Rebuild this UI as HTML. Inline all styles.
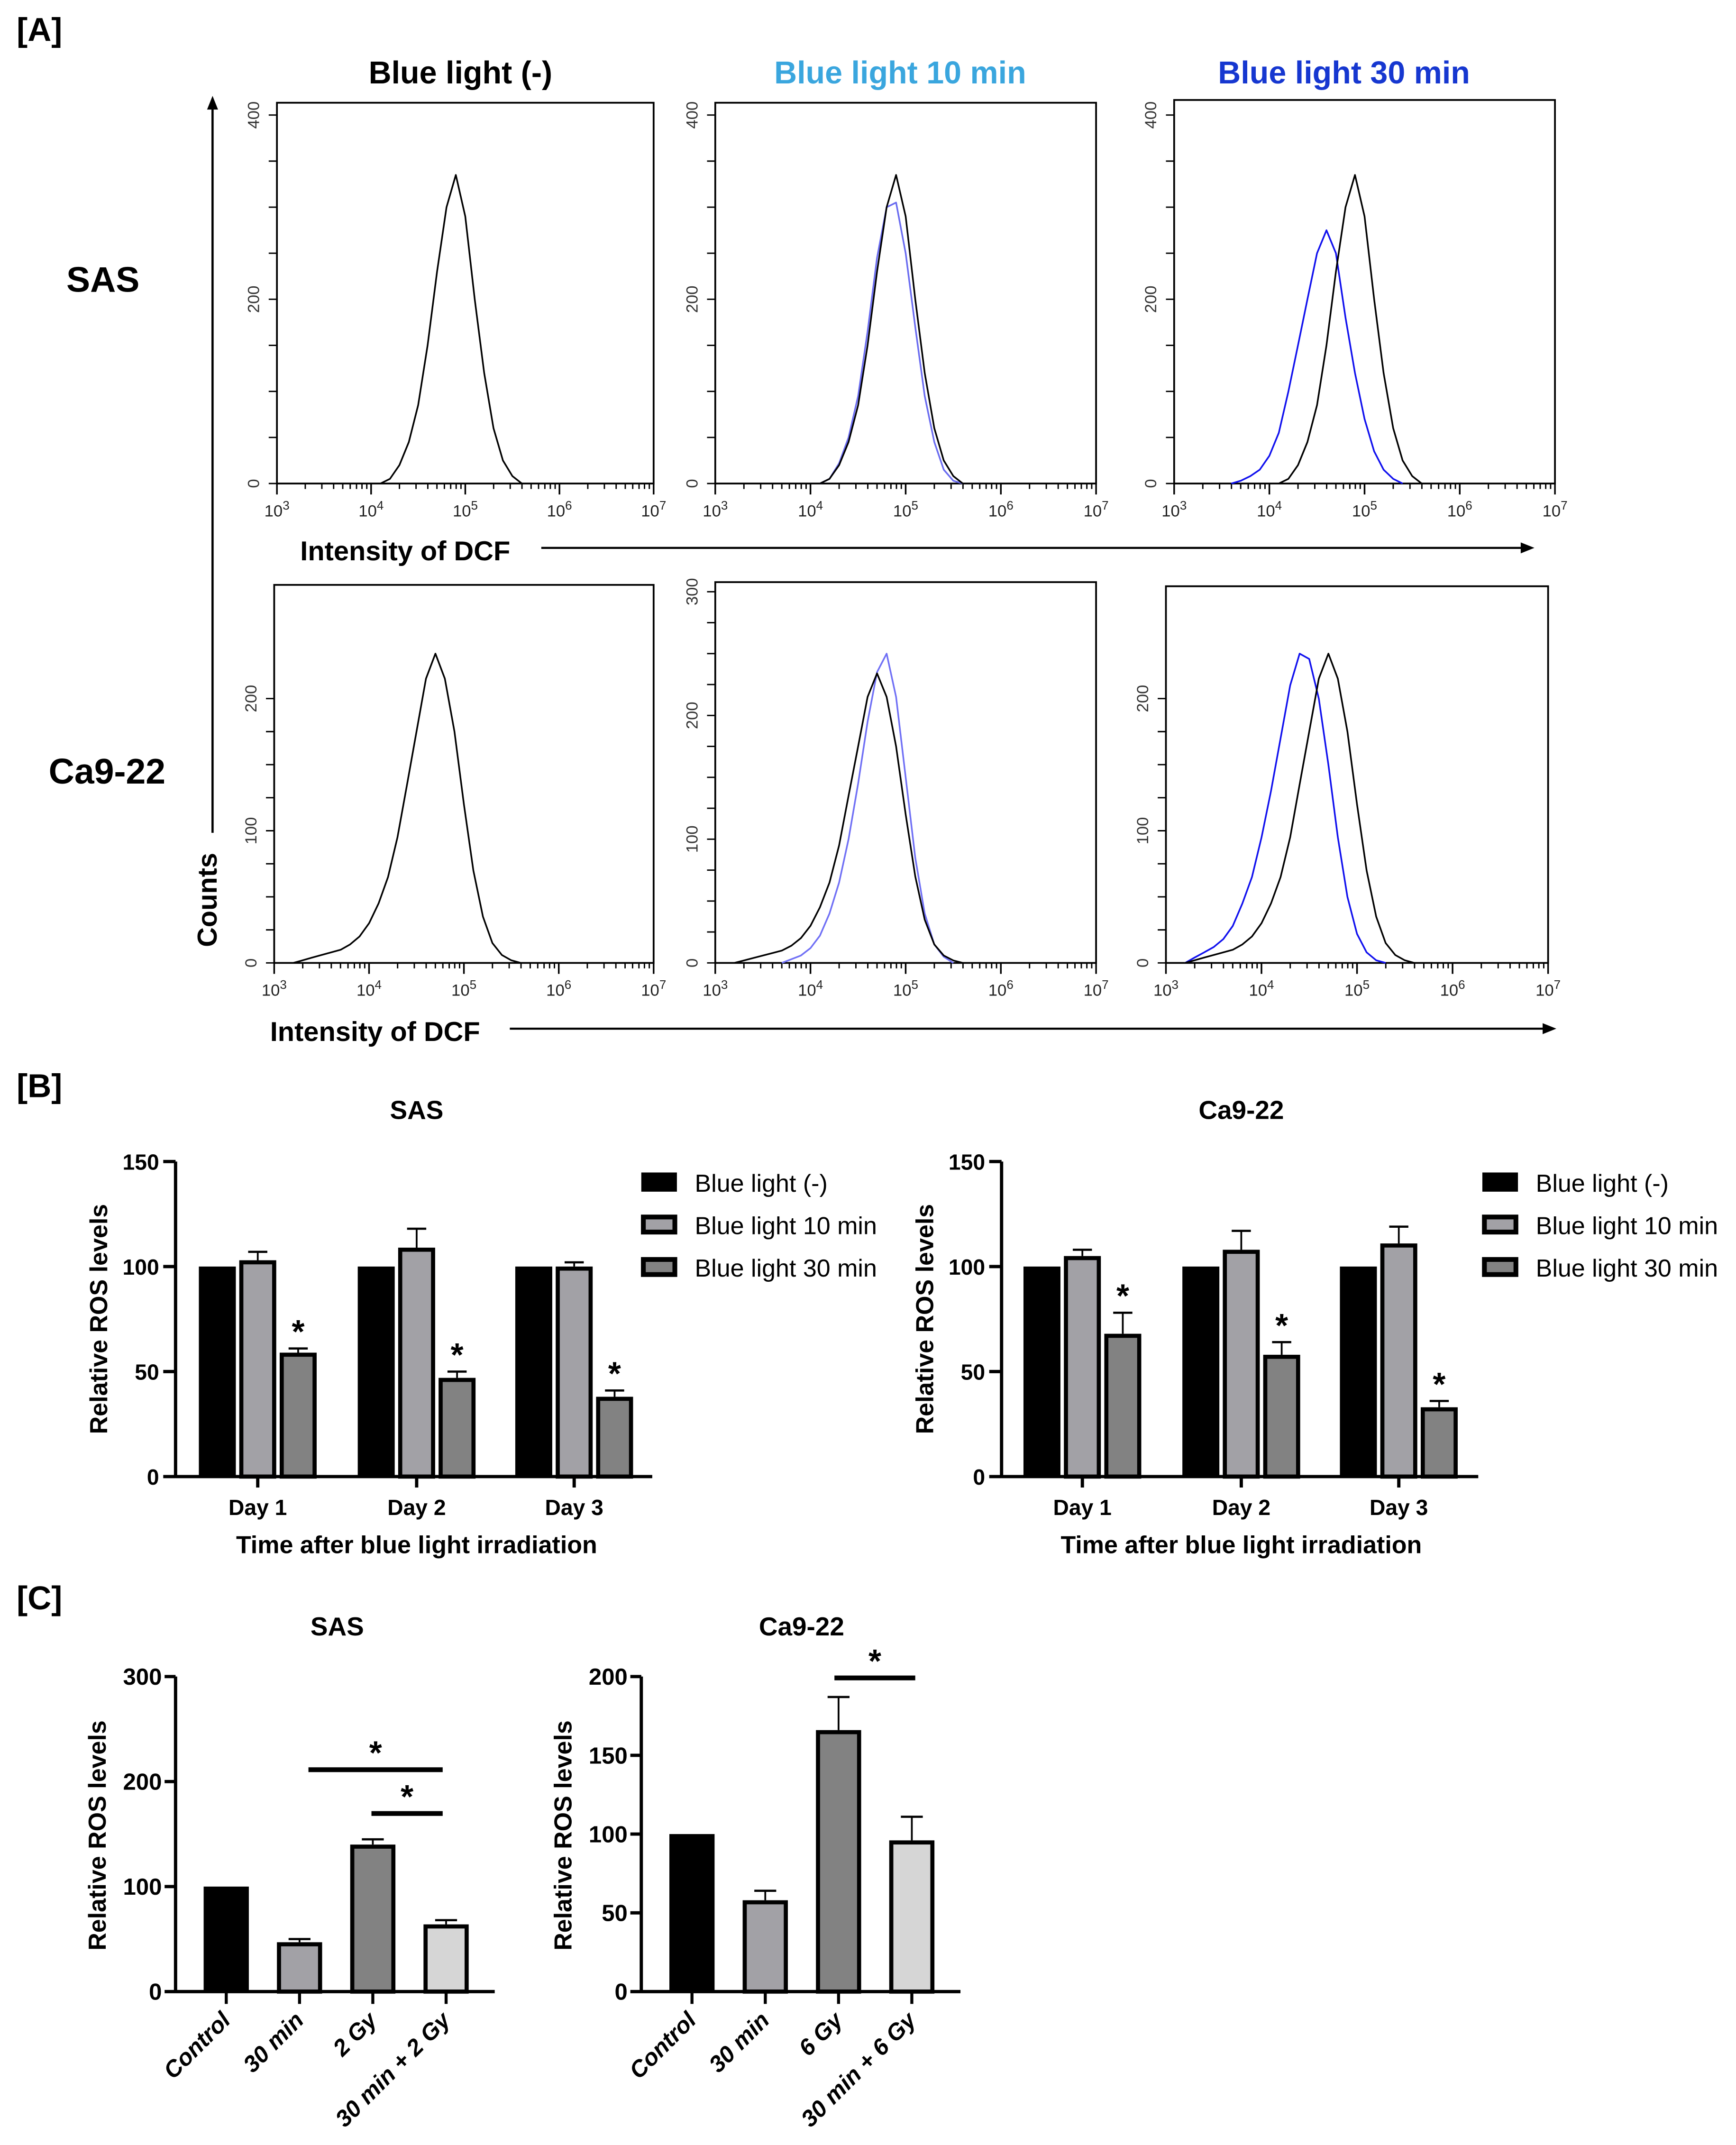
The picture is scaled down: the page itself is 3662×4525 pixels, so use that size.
<!DOCTYPE html>
<html><head><meta charset="utf-8"><style>
html,body{margin:0;padding:0;background:#fff}
svg{display:block}
text{font-family:"Liberation Sans",sans-serif}
</style></head><body>
<svg id="fig" xmlns="http://www.w3.org/2000/svg" width="3662" height="4525" viewBox="0 0 1267 1566">
<rect width="1280" height="1582" fill="#fff"/>
<g id="static">
<text x="12" y="30" font-size="24" font-weight="bold">[A]</text>
<text x="336" y="61" font-size="23" font-weight="bold" text-anchor="middle" fill="#000">Blue light (-)</text>
<text x="657" y="61" font-size="23" font-weight="bold" text-anchor="middle" fill="#3aa6de">Blue light 10 min</text>
<text x="981" y="61" font-size="23" font-weight="bold" text-anchor="middle" fill="#1637d0">Blue light 30 min</text>
<text x="75" y="213" font-size="26" font-weight="bold" text-anchor="middle">SAS</text>
<text x="78" y="572" font-size="26" font-weight="bold" text-anchor="middle">Ca9-22</text>
<line x1="155" y1="608" x2="155" y2="78" stroke="#000" stroke-width="1.6"/>
<polygon points="155,70 151,80 159,80" fill="#000"/>
<text transform="translate(158,657) rotate(-90)" font-size="20" font-weight="bold" text-anchor="middle">Counts</text>
<text x="219" y="409" font-size="20" font-weight="bold">Intensity of DCF</text>
<line x1="395" y1="400" x2="1112" y2="400" stroke="#000" stroke-width="1.5"/>
<polygon points="1120,400 1110,396 1110,404" fill="#000"/>
<text x="197" y="760" font-size="20" font-weight="bold">Intensity of DCF</text>
<line x1="372" y1="751" x2="1128" y2="751" stroke="#000" stroke-width="1.5"/>
<polygon points="1136,751 1126,747 1126,755" fill="#000"/>
<text x="12" y="801" font-size="24" font-weight="bold">[B]</text>
<text x="12" y="1175" font-size="24" font-weight="bold">[C]</text>
</g>
<g id="hist"></g>
<g id="bars"></g>
<g id="cbars"></g>
</svg>
<script>
const NS="http://www.w3.org/2000/svg";
function el(tag,attrs,parent,txt){const e=document.createElementNS(NS,tag);for(const k in attrs)e.setAttribute(k,attrs[k]);if(txt!==undefined)e.textContent=txt;parent.appendChild(e);return e;}

// ---------- Panel A histogram data (log10 intensity bins, counts) ----------
const sasBlackBins=[4.1,4.2,4.3,4.4,4.5,4.6,4.7,4.8,4.9,5.0,5.1,5.2,5.3,5.4,5.5,5.6];
const sasBlackCounts=[0,5,20,45,85,150,230,300,335,290,200,120,60,25,8,0];
const sasBlue10Bins=[4.1,4.2,4.3,4.4,4.5,4.6,4.7,4.8,4.9,5.0,5.1,5.2,5.3,5.4,5.5,5.6];
const sasBlue10Counts=[0,5,22,50,95,165,245,300,305,250,170,95,45,15,3,0];
const sasBlue30Bins=[3.6,3.7,3.8,3.9,4.0,4.1,4.2,4.3,4.4,4.5,4.6,4.7,4.8,4.9,5.0,5.1,5.2,5.3,5.4];
const sasBlue30Counts=[0,3,8,15,30,55,100,150,200,250,275,250,180,120,70,35,15,5,0];
const caBlackBins=[3.2,3.3,3.4,3.5,3.6,3.7,3.8,3.9,4.0,4.1,4.2,4.3,4.4,4.5,4.6,4.7,4.8,4.9,5.0,5.1,5.2,5.3,5.4,5.5,5.6];
const caBlackCounts=[0,2,4,6,8,10,14,20,30,45,65,95,135,175,215,234,215,175,120,70,35,15,6,2,0];
const caBlue10Bins=[3.7,3.8,3.9,4.0,4.1,4.2,4.3,4.4,4.5,4.6,4.7,4.8,4.9,5.0,5.1,5.2,5.3,5.4,5.5];
const caBlue10Counts=[0,3,6,12,22,40,65,100,145,195,235,250,215,150,85,40,15,5,0];
const caBlue30Bins=[3.2,3.3,3.4,3.5,3.6,3.7,3.8,3.9,4.0,4.1,4.2,4.3,4.4,4.5,4.6,4.7,4.8,4.9,5.0,5.1,5.2,5.3];
const caBlue30Counts=[0,4,8,12,18,28,45,65,95,130,170,210,234,230,200,150,95,50,22,8,2,0];
const xTickExp=[3,4,5,6,7];

const hplots=[
 {name:'sas-control',x0:202,x1:477,top:75,base:353,ymax:400,yTopPx:84,yStep:50,yLab:[0,200,400],series:[['black',sasBlackBins,sasBlackCounts]]},
 {name:'sas-10min',x0:522,x1:800,top:75,base:353,ymax:400,yTopPx:84,yStep:50,yLab:[0,200,400],series:[['#6a6cf0',sasBlue10Bins,sasBlue10Counts],['black',sasBlackBins,sasBlackCounts]]},
 {name:'sas-30min',x0:857,x1:1135,top:73,base:353,ymax:400,yTopPx:84,yStep:50,yLab:[0,200,400],series:[['#1010ee',sasBlue30Bins,sasBlue30Counts],['black',sasBlackBins,sasBlackCounts]]},
 {name:'ca-control',x0:200,x1:477,top:427,base:703,ymax:200,yTopPx:510,yStep:25,yLab:[0,100,200],series:[['black',caBlackBins,caBlackCounts]]},
 {name:'ca-10min',x0:522,x1:800,top:425,base:703,ymax:300,yTopPx:432,yStep:25,yLab:[0,100,200,300],series:[['#7070f5',caBlue10Bins,caBlue10Counts],['black',caBlackBins,caBlackCounts]]},
 {name:'ca-30min',x0:851,x1:1130,top:428,base:703,ymax:200,yTopPx:510,yStep:25,yLab:[0,100,200],series:[['#1010ee',caBlue30Bins,caBlue30Counts],['black',caBlackBins,caBlackCounts]]}
];
const H=document.getElementById('hist');
hplots.forEach(p=>{
 const g=el('g',{},H);
 
 
 const xs=v=>p.x0+(v-3)/4*(p.x1-p.x0);
 const ys=v=>p.base-v/p.ymax*(p.base-p.yTopPx);
 el('rect',{x:p.x0,y:p.top,width:p.x1-p.x0,height:p.base-p.top,fill:'none',stroke:'#000','stroke-width':1.3},g);
 for(let d=3;d<7;d++){for(let k=2;k<=9;k++){const x=xs(d+Math.log10(k));el('line',{x1:x,y1:p.base,x2:x,y2:p.base+4,stroke:'#000','stroke-width':1},g);}}
 xTickExp.forEach(e=>{const x=xs(e);el('line',{x1:x,y1:p.base,x2:x,y2:p.base+8,stroke:'#000','stroke-width':1.2},g);
   const t=el('text',{x:x,y:p.base+24,'font-size':12,'text-anchor':'middle',fill:'#222'},g);
   
   el('tspan',{},t,'10');el('tspan',{dy:-5,'font-size':9},t,String(e));});
 for(let v=0;v<=p.ymax;v+=p.yStep){const y=ys(v);el('line',{x1:p.x0-6,y1:y,x2:p.x0,y2:y,stroke:'#000','stroke-width':1},g);}
 p.yLab.forEach(v=>{const y=ys(v);const t=el('text',{transform:`translate(${p.x0-13},${y}) rotate(-90)`,'font-size':12,'text-anchor':'middle',fill:'#333'},g,String(v));
   });
 p.series.forEach(s=>{const [col,bins,cnt]=s;let d='';
   bins.forEach((b,i)=>{const x=xs(b),y=ys(cnt[i]);d+=(i?'L':'M')+x.toFixed(1)+','+y.toFixed(1);});
   const pth=el('path',{d:d,fill:'none',stroke:col,'stroke-width':1.2,'stroke-linejoin':'round'},g);
   });
});

// ---------- Panel B ----------
const days=['Day 1','Day 2','Day 3'];
const legendLabels=['Blue light (-)','Blue light 10 min','Blue light 30 min'];
const sasCtrl=[100,100,100];
const sas10=[103,109,100];
const sas10Err=[4,9,2];
const sas30=[59,47,38];
const sas30Err=[2,3,3];
const caCtrl=[100,100,100];
const ca10=[105,108,111];
const ca10Err=[3,9,8];
const ca30=[68,58,33];
const ca30Err=[10,6,3];
const bTicks=[0,50,100,150];
const fills=['#000','#a2a1a6','#828282'];
const B=document.getElementById('bars');
function panelB(name,ax,title,titleX,groupX,ctrl,v10,e10,v30,e30,legX){
 const g=el('g',{},B);
 
 
 const base=1078,top=848,ys=v=>base-v/150*(base-top);
 const t=el('text',{x:titleX,y:817,'font-size':19,'font-weight':'bold','text-anchor':'middle'},g,title);
 
 el('line',{x1:ax,y1:top,x2:ax,y2:base+1,stroke:'#000','stroke-width':2.4},g);
 el('line',{x1:ax,y1:base,x2:ax+348,y2:base,stroke:'#000','stroke-width':2.4},g);
 bTicks.forEach(v=>{el('line',{x1:ax-9,y1:ys(v),x2:ax,y2:ys(v),stroke:'#000','stroke-width':2.4},g);
  const l=el('text',{x:ax-12,y:ys(v)+6,'font-size':16,'font-weight':'bold','text-anchor':'end'},g,String(v));
  });
 const yt=el('text',{transform:`translate(${ax-50},${963}) rotate(-90)`,'font-size':18,'font-weight':'bold','text-anchor':'middle'},g,'Relative ROS levels');
 
 const xt=el('text',{x:titleX,y:1134,'font-size':18,'font-weight':'bold','text-anchor':'middle'},g,'Time after blue light irradiation');
 
 const W=27,gap=2.5;
 days.forEach((d,i)=>{const cx=groupX[i];
  el('line',{x1:cx,y1:base,x2:cx,y2:base+8,stroke:'#000','stroke-width':2.4},g);
  const dl=el('text',{x:cx,y:1106,'font-size':16,'font-weight':'bold','text-anchor':'middle'},g,d);
  
  const vals=[ctrl[i],v10[i],v30[i]],errs=[0,e10[i],e30[i]];
  vals.forEach((v,j)=>{const x=cx-1.5*W-gap+j*(W+gap);const y=ys(v);
   if(errs[j]>0){const ye=ys(v+errs[j]);el('line',{x1:x+W/2,y1:y,x2:x+W/2,y2:ye,stroke:'#000','stroke-width':1.3},g);el('line',{x1:x+W/2-7,y1:ye,x2:x+W/2+7,y2:ye,stroke:'#000','stroke-width':1.6},g);}
   let r;
   if(j===0) r=el('rect',{x:x,y:y,width:W,height:base-y,fill:'#000'},g);
   else r=el('rect',{x:x+1.5,y:y+1.5,width:W-3,height:base-y-1.5,fill:fills[j],stroke:'#000','stroke-width':3},g);
   
   
   if(j===2){const s=el('text',{x:x+W/2,y:ys(v+errs[j])-4,'font-size':24,'font-weight':'bold','text-anchor':'middle'},g,'*');}
  });
 });
 legendLabels.forEach((lab,j)=>{const y=863+j*31;
  let r;
  if(j===0) r=el('rect',{x:legX,y:y-7,width:26,height:14,fill:'#000'},g);
  else r=el('rect',{x:legX+1.5,y:y-5.5,width:23,height:11,fill:fills[j],stroke:'#000','stroke-width':3.5},g);
  
  const tx=el('text',{x:legX+39,y:y+7,'font-size':18},g,lab);
  
 });
}
panelB('sas',128,'SAS',304,[188,304,419],sasCtrl,sas10,sas10Err,sas30,sas30Err,468);
panelB('ca922',731,'Ca9-22',906,[790,906,1021],caCtrl,ca10,ca10Err,ca30,ca30Err,1082);

// ---------- Panel C ----------
const sasCCats=['Control','30 min','2 Gy','30 min + 2 Gy'];
const sasCVals=[100,47,140,64];
const sasCErr=[0,3,5,4];
const sasCTicks=[0,100,200,300];
const caCCats=['Control','30 min','6 Gy','30 min + 6 Gy'];
const caCVals=[100,58,166,96];
const caCErr=[0,6,21,15];
const caCTicks=[0,50,100,150,200];
const cFills=['#000','#a2a1a6','#828282','#d6d6d6'];
const C=document.getElementById('cbars');
function panelC(name,ax,ymax,ticks,cats,vals,errs,title,titleX,sigs){
 const g=el('g',{},C);
 
 
 const base=1454,top=1224,ys=v=>base-v/ymax*(base-top);
 const step=53.5,W=33,first=ax+37;
 const t=el('text',{x:titleX,y:1194,'font-size':19,'font-weight':'bold','text-anchor':'middle'},g,title);
 
 el('line',{x1:ax,y1:top,x2:ax,y2:base+1,stroke:'#000','stroke-width':2.4},g);
 el('line',{x1:ax,y1:base,x2:ax+233,y2:base,stroke:'#000','stroke-width':2.4},g);
 ticks.forEach(v=>{el('line',{x1:ax-8,y1:ys(v),x2:ax,y2:ys(v),stroke:'#000','stroke-width':2.4},g);
  const l=el('text',{x:ax-10,y:ys(v)+6,'font-size':17,'font-weight':'bold','text-anchor':'end','font-family':'Liberation Sans Narrow, Liberation Sans, sans-serif'},g,String(v));
  });
 const yt=el('text',{transform:`translate(${ax-51},1340) rotate(-90)`,'font-size':18,'font-weight':'bold','text-anchor':'middle'},g,'Relative ROS levels');
 
 cats.forEach((c,i)=>{const cx=first+i*step;const v=vals[i],y=ys(v);
  el('line',{x1:cx,y1:base,x2:cx,y2:base+9,stroke:'#000','stroke-width':2.2},g);
  const lb=el('text',{transform:`translate(${cx+4},${base+22}) rotate(-45)`,'font-size':17,'font-weight':'bold','font-style':'italic','text-anchor':'end','font-family':'Liberation Sans Narrow, Liberation Sans, sans-serif'},g,c);
  
  if(errs[i]>0){const ye=ys(v+errs[i]);el('line',{x1:cx,y1:y,x2:cx,y2:ye,stroke:'#000','stroke-width':1.3},g);el('line',{x1:cx-8,y1:ye,x2:cx+8,y2:ye,stroke:'#000','stroke-width':1.6},g);}
  let r;
  if(i===0) r=el('rect',{x:cx-W/2,y:y,width:W,height:base-y,fill:'#000'},g);
  else r=el('rect',{x:cx-W/2+1.5,y:y+1.5,width:W-3,height:base-y-1.5,fill:cFills[i],stroke:'#000','stroke-width':3},g);
  
  
 });
 sigs.forEach(s=>{const [x1,x2,y]=s;el('line',{x1:x1,y1:y,x2:x2,y2:y,stroke:'#000','stroke-width':3.5},g);
  const st=el('text',{x:(x1+x2)/2,y:y-4,'font-size':24,'font-weight':'bold','text-anchor':'middle'},g,'*');
  });
}
panelC('sas',128,300,sasCTicks,sasCCats,sasCVals,sasCErr,'SAS',246,[[225,323,1292],[271,323,1324]]);
panelC('ca922',468,200,caCTicks,caCCats,caCVals,caCErr,'Ca9-22',585,[[609,668,1225]]);
</script>
</body></html>
